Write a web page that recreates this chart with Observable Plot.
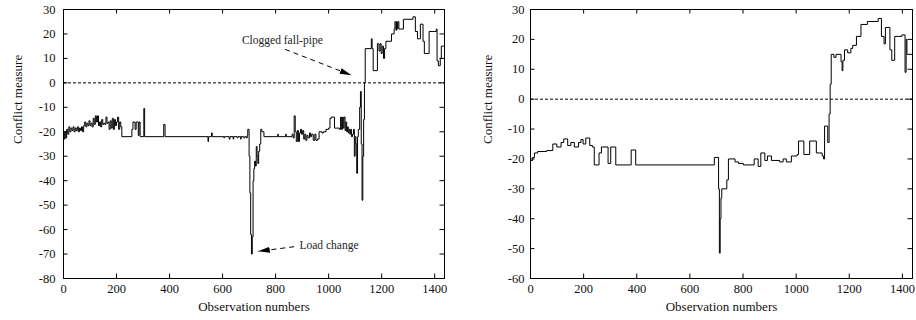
<!DOCTYPE html>
<html><head><meta charset="utf-8">
<script src="https://cdn.jsdelivr.net/npm/d3@7"></script>
<script src="https://cdn.jsdelivr.net/npm/@observablehq/plot@0.6"></script>
<style>
body{margin:0;background:#fff;}
#row{display:flex;width:916px;height:320px;}
</style></head><body><div id="row"></div>
<script>
// ---- data: left panel (step series: observation number where value starts) ----
const obsL = [0,3,6,9,12,16,20,24,28,32,36,40,44,48,52,56,60,64,68,72,76,80,84,88,92,96,100,104,108,112,116,120,124,128,132,136,140,144,148,152,156,160,164,168,172,176,180,184,188,192,196,200,204,208,212,216,220,258,262,270,274,282,285,289,303,306,378,383,545,547,558,561,605,607,625,628,640,642,655,658,668,670,680,684,690,693,695,700,703,706,709,712,715,718,721,724,727,730,733,736,740,744,748,756,808,810,838,840,862,866,870,874,878,882,886,890,894,898,902,906,910,914,918,922,928,932,936,942,948,952,958,964,975,980,990,1000,1005,1010,1022,1030,1040,1045,1048,1052,1055,1058,1062,1065,1068,1071,1074,1077,1080,1083,1086,1090,1094,1097,1100,1103,1106,1109,1112,1117,1120,1123,1126,1129,1132,1135,1138,1161,1164,1168,1184,1190,1194,1198,1202,1207,1211,1216,1237,1247,1250,1254,1256,1259,1261,1265,1282,1318,1327,1335,1346,1356,1361,1379,1406,1409,1414,1421,1425,1437];
const valL = [-20,-23,-20,-22.5,-19,-21,-18,-20,-18.5,-19.5,-18,-20,-18.5,-19.5,-18,-20,-18.5,-19.5,-18,-20,-17.5,-16,-18,-16.5,-17.5,-15.5,-17.5,-16.5,-18,-14.5,-17,-13.5,-16,-13.5,-17.5,-16,-18,-15,-17,-16.5,-17,-14,-16.5,-16,-19,-15.5,-18.5,-14.5,-19,-15,-17.5,-16,-14,-19,-16,-18,-22,-19,-16,-19,-16,-21.5,-16,-22,-10.5,-22,-17,-22,-24,-22,-20.5,-22,-22.5,-22,-23,-22,-23,-22,-22.5,-22,-23,-22,-22.5,-22,-22.5,-21.5,-19,-30,-45,-62,-70,-63,-40,-35,-32,-34,-26,-30,-33,-28,-25,-19,-20,-22,-21,-22,-21,-22,-21,-22.5,-13.5,-20,-24,-19.5,-24,-20.5,-19,-21,-19.5,-23,-21,-23.5,-21.5,-22.5,-20.5,-22,-21,-23.5,-21,-23.5,-23,-20,-20.5,-20,-19,-18.5,-14.5,-14,-18.5,-18.5,-19,-14,-19,-14,-18.5,-14,-19.5,-16,-20,-18,-20.5,-19,-21,-19,-22,-21,-19,-30,-22,-25,-37,-22,-19,-10,-3.5,-25,-48,-30,-15,0,14,18,14,5,16,13,16,12,15,10,14,17,20,22,25,21.5,25,22,25,22,26,27,21,18,24,17,12,21,22,9,7,10,15,15];
// ---- data: right panel ----
const obsR = [0,8,15,27,61,84,99,115,125,140,152,165,181,190,198,208,223,233,240,258,267,292,302,321,379,396,692,708,711,714,717,720,739,745,770,783,801,842,857,867,882,892,907,938,951,963,982,1004,1009,1029,1051,1076,1098,1103,1107,1119,1124,1128,1132,1142,1150,1169,1173,1176,1182,1194,1206,1213,1227,1244,1268,1309,1321,1331,1336,1353,1360,1371,1398,1410,1414,1417,1438];
const valR = [-20.5,-19.5,-18,-17.5,-17.2,-15,-16,-14.5,-13.3,-15.5,-14.5,-16,-14.5,-13.5,-15,-13,-15.5,-16,-22,-18,-16,-21.5,-16,-22,-17,-22,-19.5,-30,-51.5,-40,-33,-30,-27,-20,-21,-21.5,-22,-20,-22.5,-18,-20.5,-19,-20.5,-21,-20,-21,-19,-18.5,-14,-18.5,-14,-18,-19,-20,-9,-14.5,-5,5,15,14,15,12.5,9.5,13,16.5,15.5,17,18,21,25,26,27,21,18.5,24,16.5,13,21,21.5,9,20,15,15];
// ---- ticks & labels ----
const xTicks = [0,200,400,600,800,1000,1200,1400];
const yTicksL = [-80,-70,-60,-50,-40,-30,-20,-10,0,10,20,30];
const yTicksR = [-60,-50,-40,-30,-20,-10,0,10,20,30];
const yLabel = "Conflict measure";
const xLabel = "Observation numbers";
// annotations (left panel)
const noteText = ["Clogged fall-pipe","Load change"];
const noteX = [673, 890];
const noteY = [17.5, -66.6];
const arrowX1 = [836, 870], arrowY1 = [13.7, -67.0];
const arrowX2 = [1087, 733], arrowY2 = [3.1, -68.9];

const FONT = '"Liberation Serif", "DejaVu Serif", serif';
const fmt = d => String(d);

function panel({obs, val, xMax, yDomain, yTicks, marginLeft, marginRight, yPad, yLabDx, notes}) {
  const W = 458, H = 320, mt = 9, mb = 42;
  const innerH = H - mt - mb, innerW = W - marginLeft - marginRight;
  const tk = 4.5;
  const data = obs.map((o, i) => ({x: o, y: val[i]}));
  const marks = [
    Plot.ruleY([0], {stroke: "#000", strokeWidth: 1, strokeDasharray: "3,2"}),
    Plot.line(data, {x: "x", y: "y", curve: "step-after", stroke: "#000", strokeWidth: 1}),
    Plot.ruleX(xTicks, {x: d => d, insetTop: innerH - tk, stroke: "#000"}),
    Plot.ruleX(xTicks, {x: d => d, insetBottom: innerH - tk, stroke: "#000"}),
    Plot.ruleY(yTicks, {y: d => d, insetRight: innerW - tk, stroke: "#000"}),
    Plot.ruleY(yTicks, {y: d => d, insetLeft: innerW - tk, stroke: "#000"}),
    Plot.frame({stroke: "#000"}),
    Plot.axisX(xTicks, {tickSize: 0, tickPadding: 6, tickFormat: fmt, label: null, fill: "#111"}),
    Plot.axisY(yTicks, {tickSize: 0, tickPadding: yPad, tickFormat: fmt, label: null, fill: "#111"}),
    Plot.text([yLabel], {frameAnchor: "left", dx: yLabDx, rotate: -90, fill: "#111", fontSize: 13}),
    Plot.text([xLabel], {frameAnchor: "bottom", dy: 32, fill: "#111", fontSize: 13})
  ];
  if (notes) {
    const links = arrowX1.map((d, i) => ({x1: d, y1: arrowY1[i], x2: arrowX2[i], y2: arrowY2[i]}));
    marks.push(Plot.link(links, {x1: "x1", y1: "y1", x2: "x2", y2: "y2", stroke: "#000", strokeWidth: 1, strokeDasharray: "5,4"}));
    marks.push(Plot.text(noteText, {x: (d, i) => noteX[i], y: (d, i) => noteY[i], text: d => d, textAnchor: "start", fill: "#222", fontSize: 11.5}));
  }
  const svg = Plot.plot({
    width: W, height: H, marginLeft, marginRight, marginTop: mt, marginBottom: mb,
    style: {fontFamily: FONT, fontSize: "12.5px", background: "white", overflow: "visible"},
    x: {domain: [0, xMax]},
    y: {domain: yDomain},
    marks
  });
  if (notes) {
    const s = d3.select(svg);
    const id = "headmk";
    s.append("defs").append("marker")
      .attr("id", id).attr("viewBox", "0 0 12 6").attr("refX", 12).attr("refY", 3)
      .attr("markerWidth", 12).attr("markerHeight", 6).attr("markerUnits", "userSpaceOnUse")
      .attr("orient", "auto")
      .append("path").attr("d", "M0,0L12,3L0,6Z").attr("fill", "#000").attr("stroke", "none");
    s.selectAll('g[aria-label="link"] path, g[aria-label="link"] line').attr("marker-end", `url(#${id})`);
  }
  return svg;
}

const row = document.getElementById("row");
row.appendChild(panel({obs: obsL, val: valL, xMax: 1437, yDomain: [-80, 30], yTicks: yTicksL, marginLeft: 63, marginRight: 14, yPad: 8, yLabDx: -46, notes: true}));
row.appendChild(panel({obs: obsR, val: valR, xMax: 1438, yDomain: [-60, 30], yTicks: yTicksR, marginLeft: 72, marginRight: 4, yPad: 6, yLabDx: -43, notes: false}));
</script></body></html>
